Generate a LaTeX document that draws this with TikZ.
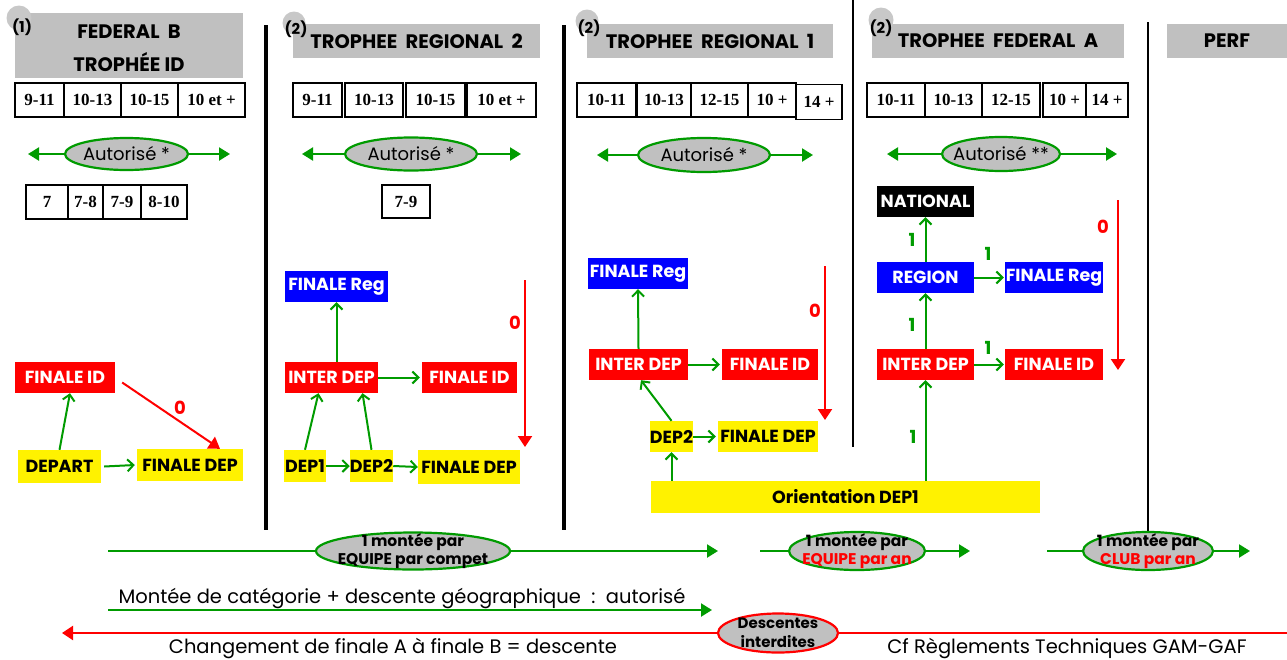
\documentclass[tikz,border=0pt]{standalone}
\usepackage{fontspec}
\setmainfont{Poppins}
\newfontfamily\serifb{Liberation Serif}
\usetikzlibrary{arrows.meta,shapes.geometric,calc}
\definecolor{grn}{RGB}{0,155,0}
\definecolor{hgray}{RGB}{192,192,192}
\definecolor{cgray}{RGB}{200,200,200}
\newcommand\fsz[2]{\fontsize{#1}{#2}\selectfont}
\begin{document}
\begin{tikzpicture}[x=1pt,y=-1pt,
  box/.style={minimum height=31, inner sep=0, font=\fsz{17.5}{20}\bfseries},
  redbox/.style={box, fill=red, text=white},
  bluebox/.style={box, fill=blue, text=white},
  yelbox/.style={box, fill=yellow, text=black},
  blkbox/.style={box, fill=black, text=white},
  hdr/.style={fill=hgray, inner sep=0, font=\fsz{19.5}{33}\bfseries, align=center},
  hdrtxt/.style={inner sep=0, font=\fsz{19.5}{33}\bfseries, align=center},
  markcirc/.style={circle, fill=cgray, inner sep=0},
  marktxt/.style={font=\fsz{15}{17}\bfseries, inner sep=0},
  agebox/.style={draw, line width=1.1, minimum height=34, inner sep=0, font=\serifb\fsz{17}{19}\bfseries},
  aell/.style={ellipse, draw=grn, line width=2.2, fill=hgray, inner sep=0},
  aelltxt/.style={inner sep=0, font=\fsz{18}{20}},
  bell/.style={ellipse, draw=grn, line width=2.2, fill=hgray, inner sep=0},
  belltxt/.style={inner sep=0, font=\fsz{15.5}{18}\bfseries, align=center},
  rell/.style={ellipse, draw=red, line width=2.2, fill=hgray, inner sep=0},
  relltxt/.style={inner sep=0, font=\fsz{15}{18.5}\bfseries, align=center},
  flow/.style={grn, line width=2, -{Straight Barb[length=6pt,width=12pt]}},
  gline/.style={grn, line width=2.2},
  gtip/.style={-{Triangle[length=11pt,width=13pt]}},
  rarrow/.style={red, line width=2, -{Triangle[length=11pt,width=14pt]}},
  zero/.style={text=red, font=\fsz{18}{20}\bfseries, inner sep=0},
  one/.style={text=grn, font=\fsz{18}{20}\bfseries, inner sep=0},
  note/.style={anchor=base, inner sep=0, font=\fsz{19.5}{22}},
  sepline/.style={black}
]
\useasboundingbox (0,0) rectangle (1287,659);

% separators
\draw[sepline, line width=4] (266,25) -- (266,530);
\draw[sepline, line width=4] (564,25) -- (564,530);
\draw[sepline, line width=2] (853,0) -- (853,447);
\draw[sepline, line width=2.5] (1148,22) -- (1148,533);

% headers
\node[hdr, minimum width=228, minimum height=65, label={[hdrtxt, yshift=-3pt]center:{FEDERAL\ \ B\\TROPH\'EE ID}}] (h1) at (129,45.5) {};
\node[hdr, minimum width=247, minimum height=34] (h2) at (416.5,41) {TROPHEE\ \ REGIONAL\ \ 2};
\node[hdr, minimum width=246, minimum height=34] (h3) at (710,41) {TROPHEE\ \ REGIONAL\ \ 1};
\node[hdr, minimum width=252, minimum height=34] (h4) at (998,41) {TROPHEE\ \ FEDERAL\ \ A};
\node[hdr, minimum width=120, minimum height=34] (h5) at (1227,41) {PERF};
\node[markcirc, minimum size=25] (m1) at (19,18) {};
\node[marktxt] (t1) at (22,27) {(1)};
\node[markcirc, minimum size=23] (m2) at (294,23) {};
\node[marktxt] (t2) at (296,29) {(2)};
\node[markcirc, minimum size=23] (m3) at (587,21) {};
\node[marktxt] (t3) at (589,28) {(2)};
\node[markcirc, minimum size=25] (m4) at (881,20) {};
\node[marktxt] (t4) at (881,28) {(2)};

% age boxes col1
\node[agebox, minimum width=49] (a11) at (39.5,100) {9-11};
\node[agebox, minimum width=57] (a12) at (92.5,100) {10-13};
\node[agebox, minimum width=57] (a13) at (149.5,100) {10-15};
\node[agebox, minimum width=67] (a14) at (211.5,100) {10 et +};
\node[agebox, minimum width=42] (b11) at (47,202) {7};
\node[agebox, minimum width=35] (b12) at (85.5,202) {7-8};
\node[agebox, minimum width=38] (b13) at (122,202) {7-9};
\node[agebox, minimum width=46] (b14) at (164,202) {8-10};
% col2
\node[agebox, minimum width=49] (a21) at (317.5,100) {9-11};
\node[agebox, minimum width=58] (a22) at (374,100) {10-13};
\node[agebox, minimum width=59] (a23) at (435.5,100) {10-15};
\node[agebox, minimum width=69] (a24) at (501.5,100) {10 et +};
\node[agebox, minimum width=48, minimum height=33] (b21) at (406,201.5) {7-9};
% col3
\node[agebox, minimum width=59] (a31) at (606.5,100) {10-11};
\node[agebox, minimum width=54] (a32) at (664,100) {10-13};
\node[agebox, minimum width=57] (a33) at (719.5,100) {12-15};
\node[agebox, minimum width=48] (a34) at (772,100) {10 +};
\node[agebox, minimum width=46, minimum height=35] (a35) at (819,102) {14 +};
% col4
\node[agebox, minimum width=58] (a41) at (896,100) {10-11};
\node[agebox, minimum width=57] (a42) at (953.5,100) {10-13};
\node[agebox, minimum width=58] (a43) at (1011,100) {12-15};
\node[agebox, minimum width=43] (a44) at (1064.5,100) {10 +};
\node[agebox, minimum width=42] (a45) at (1107,100) {14 +};

% Autorise ellipses
\node[aell, minimum width=123, minimum height=32, label={[aelltxt]center:Autoris\'e *}] (au1) at (126.5,154) {};
\coordinate (au1l) at (28,154); \coordinate (au1r) at (230,154);
\draw[gline, gtip] (au1.west) -- (au1l);
\draw[gline, gtip] (au1.east) -- (au1r);
\node[aell, minimum width=132, minimum height=33, label={[aelltxt]center:Autoris\'e *}] (au2) at (411,154) {};
\coordinate (au2l) at (302,154); \coordinate (au2r) at (521,154);
\draw[gline, gtip] (au2.west) -- (au2l);
\draw[gline, gtip] (au2.east) -- (au2r);
\node[aell, minimum width=132, minimum height=34, label={[aelltxt]center:Autoris\'e *}] (au3) at (704,155) {};
\coordinate (au3l) at (597,155); \coordinate (au3r) at (813,155);
\draw[gline, gtip] (au3.west) -- (au3l);
\draw[gline, gtip] (au3.east) -- (au3r);
\node[aell, minimum width=118, minimum height=34, label={[aelltxt]center:Autoris\'e **}] (au4) at (1001,154) {};
\coordinate (au4l) at (887,154); \coordinate (au4r) at (1117,154);
\draw[gline, gtip] (au4.west) -- (au4l);
\draw[gline, gtip] (au4.east) -- (au4r);

% column 1 flow
\node[redbox, minimum width=100] (fid1) at (65,377.5) {FINALE ID};
\node[yelbox, minimum width=83, minimum height=33] (dep) at (59.5,466.5) {DEPART};
\node[yelbox, minimum width=106, minimum height=32] (fdep1) at (190,465) {FINALE DEP};
\draw[flow] (dep.north) -- ([xshift=5]fid1.south);
\draw[flow] ([xshift=3]dep.east) -- ([xshift=-2]fdep1.west);
\draw[rarrow] ([xshift=7,yshift=-5]fid1.east) -- ([xshift=30]fdep1.north);
\node[zero] (z1) at (180,408) {0};

% column 2 flow
\node[bluebox, minimum width=103] (freg2) at (336.5,286.5) {FINALE Reg};
\node[redbox, minimum width=93] (inter2) at (331.5,377.5) {INTER DEP};
\node[redbox, minimum width=95] (fid2) at (469.5,377.5) {FINALE ID};
\node[yelbox, minimum width=42, minimum height=32] (d1) at (305,466) {DEP1};
\node[yelbox, minimum width=43, minimum height=32] (d2) at (371.5,466) {DEP2};
\node[yelbox, minimum width=102, minimum height=34] (fdep2) at (469,467) {FINALE DEP};
\draw[flow] (freg2.south |- inter2.north) -- (freg2.south);
\draw[flow] (inter2.east) -- ([xshift=-2]fid2.west);
\draw[flow] (d1.north) -- ([xshift=-13]inter2.south);
\draw[flow] (d2.north) -- ([xshift=31]inter2.south);
\draw[flow] (d1.east) -- (d2.west);
\draw[flow] (d2.east) -- (fdep2.west);
\coordinate (r2a) at (525,280); \coordinate (r2b) at (525,447);
\draw[rarrow] (r2a) -- (r2b);
\node[zero] (z2) at (515,323) {0};

% column 3 flow
\node[bluebox, minimum width=100] (freg3) at (638,273.5) {FINALE Reg};
\node[redbox, minimum width=99] (inter3) at (638.5,364.5) {INTER DEP};
\node[redbox, minimum width=96] (fid3) at (770,364.5) {FINALE ID};
\node[yelbox, minimum width=43] (d23) at (671.5,436.5) {DEP2};
\node[yelbox, minimum width=100] (fdep3) at (768,436.5) {FINALE DEP};
\node[yelbox, minimum width=389, minimum height=32] (orient) at (845.5,497) {Orientation DEP1\hspace{20pt}};
\draw[flow] (inter3.north) -- (freg3.south);
\draw[flow] (inter3.east) -- ([xshift=-2]fid3.west);
\draw[flow] (d23.north) -- ([xshift=2.5]inter3.south);
\draw[flow] (d23.east) -- ([xshift=-2]fdep3.west);
\draw[flow] (orient.north -| d23.south) -- (d23.south);
\coordinate (r3a) at (825,266); \coordinate (r3b) at (825,420);
\draw[rarrow] (r3a) -- (r3b);
\node[zero] (z3) at (815,311) {0};

% column 4 flow
\node[blkbox, minimum width=97] (nat) at (925.5,201.5) {NATIONAL};
\node[bluebox, minimum width=97] (reg4) at (925.5,277.5) {REGION};
\node[bluebox, minimum width=98] (freg4) at (1054,277.5) {FINALE Reg};
\node[redbox, minimum width=97] (inter4) at (925.5,364.5) {INTER DEP};
\node[redbox, minimum width=98] (fid4) at (1054,364.5) {FINALE ID};
\draw[flow] (reg4.north) -- (nat.south);
\draw[flow] (reg4.east) -- ([xshift=-1]freg4.west);
\draw[flow] (inter4.north) -- (reg4.south);
\draw[flow] (inter4.east) -- ([xshift=-1]fid4.west);
\draw[flow] (orient.north -| inter4.south) -- (inter4.south);
\node[one] (o1) at (912,240) {1};
\node[one] (o2) at (988,254) {1};
\node[one] (o3) at (912,325) {1};
\node[one] (o4) at (988,348) {1};
\node[one] (o5) at (913,437) {1};
\coordinate (r4a) at (1118,200); \coordinate (r4b) at (1118,370);
\draw[rarrow] (r4a) -- (r4b);
\node[zero] (z4) at (1103,227) {0};

% bottom montee arrows
\node[bell, minimum width=194, minimum height=37, label={[belltxt]center:{1 mont\'ee par\\EQUIPE par compet}}] (e1) at (413,551) {};
\coordinate (g1a) at (108,551); \coordinate (g1b) at (718,551);
\draw[gline] (g1a) -- (e1.west);
\draw[gline, gtip] (e1.east) -- (g1b);
\node[bell, minimum width=136, minimum height=38, label={[belltxt]center:{1 mont\'ee par\\\textcolor{red}{EQUIPE par an}}}] (e2) at (857,551) {};
\coordinate (g2a) at (760,551); \coordinate (g2b) at (970,551);
\draw[gline] (g2a) -- (e2.west);
\draw[gline, gtip] (e2.east) -- (g2b);
\node[bell, minimum width=130, minimum height=38, label={[belltxt]center:{1 mont\'ee par\\\textcolor{red}{CLUB par an}}}] (e3) at (1148,551) {};
\coordinate (g3a) at (1047,551); \coordinate (g3b) at (1250,551);
\draw[gline] (g3a) -- (e3.west);
\draw[gline, gtip] (e3.east) -- (g3b);

% montee de categorie
\node[note] (mtxt) at (402,603) {Mont\'ee de cat\'egorie + descente g\'eographique\ \ :\ \ autoris\'e};
\coordinate (g4a) at (108,610); \coordinate (g4b) at (712,610);
\draw[gline, gtip] (g4a) -- (g4b);

% descentes interdites
\node[rell, minimum width=120, minimum height=39, label={[relltxt]center:{Descentes\\interdites}}] (e4) at (778,633) {};
\coordinate (rl) at (62,633); \coordinate (rr) at (1287,633);
\draw[red, line width=2, -{Triangle[length=11pt,width=14pt]}] (e4.west) -- (rl);
\draw[red, line width=2] (e4.east) -- (rr);
\node[note] (ctxt) at (393,653.5) {Changement de finale A \`a finale B = descente};
\node[note] (cftxt) at (1067,653.5) {Cf R\`eglements Techniques GAM-GAF};
\end{tikzpicture}
\end{document}
